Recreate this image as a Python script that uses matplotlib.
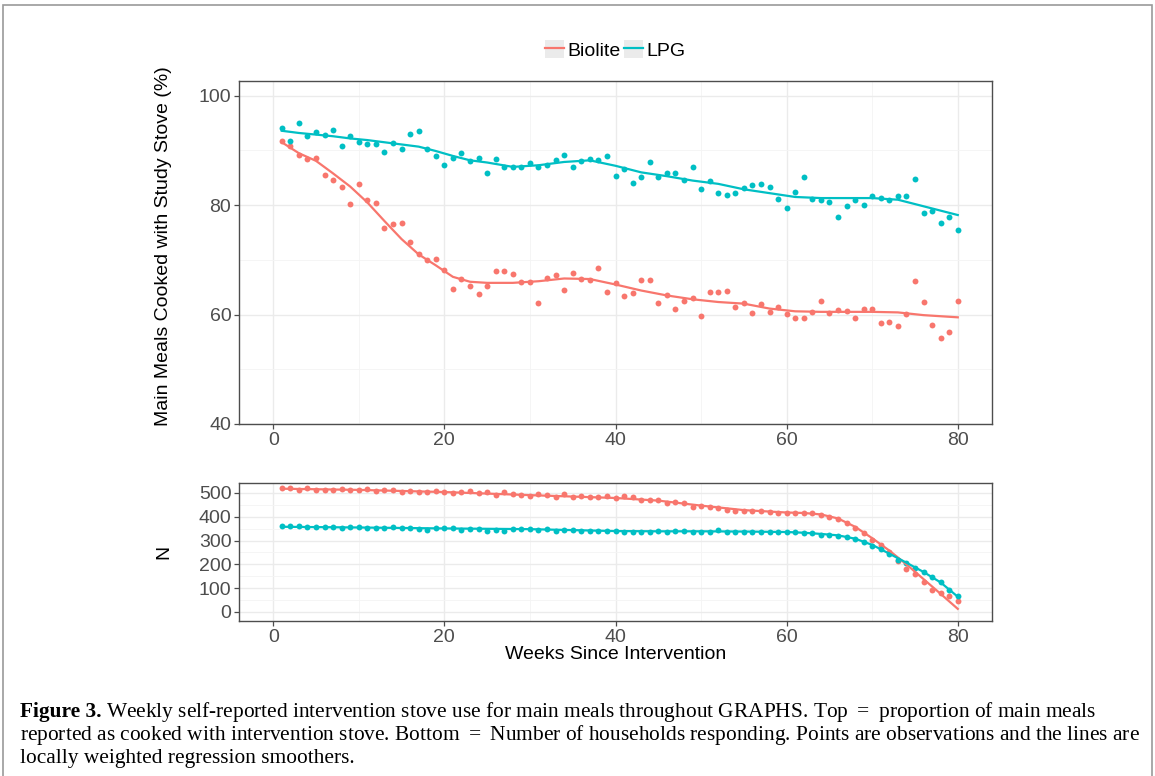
import matplotlib
matplotlib.use('Agg')
import matplotlib.pyplot as plt
from matplotlib.patches import Rectangle, Patch
from matplotlib.lines import Line2D
from matplotlib.ticker import MultipleLocator

W, H = 1155, 776

weeks = list(range(1, 81))

# top panel: % of main meals cooked with study stove
biolite_pct = [91.8, 90.9, 89.1, 88.5, 88.7, 85.5, 84.6, 83.4, 80.2, 83.9,
               81.0, 80.4, 75.9, 76.5, 76.7, 73.2, 71.0, 69.9, 70.1, 68.2,
               64.6, 66.5, 65.3, 63.8, 65.3, 67.9, 67.9, 67.5, 65.9, 65.9,
               62.2, 66.7, 67.3, 64.5, 67.6, 66.5, 66.4, 68.5, 64.2, 65.8,
               63.4, 63.9, 66.4, 66.4, 62.1, 63.5, 61.1, 62.5, 63.0, 59.8,
               64.1, 64.1, 64.4, 61.3, 62.2, 60.2, 61.9, 60.5, 61.4, 60.1,
               59.3, 59.4, 60.5, 62.4, 60.3, 60.9, 60.6, 59.3, 61.1, 61.1,
               58.4, 58.6, 57.9, 60.1, 66.1, 62.3, 58.1, 55.8, 56.8, 62.4]
lpg_pct = [94.1, 91.8, 95.1, 92.6, 93.4, 92.9, 93.8, 90.8, 92.6, 91.5,
           91.1, 91.1, 89.8, 91.4, 90.2, 93.1, 93.6, 90.2, 89.0, 87.3,
           88.7, 89.6, 88.1, 88.6, 85.8, 88.5, 86.9, 86.9, 87.0, 87.8,
           87.0, 87.4, 88.2, 89.1, 87.0, 88.1, 88.5, 88.2, 88.9, 85.3,
           86.7, 84.1, 85.1, 87.9, 85.1, 85.9, 85.9, 84.6, 87.0, 82.9,
           84.4, 82.2, 81.8, 82.2, 83.1, 83.6, 83.9, 83.3, 81.1, 79.4,
           82.4, 85.2, 81.2, 80.9, 80.6, 77.9, 79.9, 80.9, 80.1, 81.7,
           81.3, 80.9, 81.7, 81.7, 84.8, 78.5, 78.9, 76.7, 77.9, 75.4]

# loess smoother
pct_smooth_weeks = [1, 3, 5, 7, 9, 11, 13, 15, 17, 19, 21, 23, 25, 28, 31, 34,
                    37, 40, 43, 46, 49, 52, 55, 58, 61, 64, 67, 70, 73, 76, 80]
biolite_pct_smooth = [91.5, 89.5, 88.1, 85.8, 83.4, 80.5, 77.1, 73.8, 71.0, 69.0,
                      66.9, 66.0, 65.8, 65.8, 66.1, 66.6, 66.5, 65.5, 64.4, 63.5,
                      62.8, 62.3, 62.0, 61.1, 60.6, 60.5, 60.5, 60.5, 60.4, 59.9, 59.5]
lpg_pct_smooth = [93.6, 93.2, 92.9, 92.6, 92.2, 91.9, 91.5, 91.1, 90.7, 89.9,
                  89.0, 88.2, 87.8, 87.0, 87.3, 87.9, 88.2, 87.2, 86.0, 85.3,
                  84.5, 83.9, 82.9, 82.2, 81.5, 81.3, 81.3, 81.3, 81.0, 79.8, 78.2]

# bottom panel: number of households responding
biolite_n = [522, 520, 513, 522, 514, 514, 514, 517, 514, 514,
             517, 507, 511, 511, 506, 510, 504, 504, 507, 506,
             499, 504, 508, 499, 503, 492, 504, 497, 492, 489,
             494, 492, 483, 494, 482, 487, 485, 483, 487, 480,
             486, 483, 472, 472, 472, 459, 464, 459, 440, 445,
             440, 435, 428, 426, 426, 426, 426, 421, 414, 417,
             417, 417, 414, 407, 398, 389, 372, 351, 330, 303,
             282, 251, 215, 181, 160, 125, 92, 78, 65, 46]
lpg_n = [361, 361, 361, 356, 356, 356, 356, 353, 356, 356,
         353, 353, 353, 356, 353, 353, 349, 346, 353, 353,
         353, 346, 349, 349, 342, 346, 342, 349, 349, 349,
         346, 349, 342, 346, 346, 342, 339, 339, 339, 339,
         338, 338, 338, 338, 342, 338, 342, 342, 338, 338,
         338, 346, 338, 338, 338, 334, 338, 338, 338, 338,
         335, 331, 331, 324, 324, 321, 317, 307, 296, 277,
         263, 242, 218, 204, 186, 169, 148, 125, 92, 69]

n_smooth_weeks = [1, 10, 20, 30, 40, 45, 50, 55, 60, 62, 64, 66, 68, 70, 72, 74, 76, 78, 80]
biolite_n_smooth = [518, 513, 504, 491, 479, 468, 447, 428, 418, 416, 410, 393, 358,
                    310, 258, 200, 138, 76, 13]
lpg_n_smooth = [358, 355, 351, 348, 340, 339, 339, 338, 336, 333, 328, 322, 308,
                282, 245, 207, 168, 124, 64]

c_bio = '#F8766D'
c_lpg = '#00BFC4'

plt.rcParams['font.family'] = ['Liberation Sans', 'DejaVu Sans']

fig = plt.figure(figsize=(W/100, H/100), dpi=100)
ax1 = fig.add_axes([239/W, 1-424/H, 753/W, 343/H])
ax2 = fig.add_axes([239/W, 1-621/H, 753/W, 138/H])


def style(ax):
    ax.set_facecolor('white')
    ax.set_axisbelow(True)
    ax.grid(True, which='major', color='#EBEBEB', lw=1.0)
    ax.grid(True, which='minor', color='#F4F4F4', lw=0.6)
    for sp in ax.spines.values():
        sp.set_color('#4d4d4d')
        sp.set_linewidth(1.0)
    ax.tick_params(which='major', length=3.5, width=0.9, color='#4d4d4d',
                   labelsize=14, labelcolor='#4d4d4d', pad=2)
    ax.tick_params(which='minor', length=0)
    ax.set_xlim(-4, 84)
    ax.xaxis.set_major_locator(MultipleLocator(20))
    ax.xaxis.set_minor_locator(MultipleLocator(10))


# top panel
style(ax1)
ax1.scatter(weeks, biolite_pct, s=18, color=c_bio, zorder=3, lw=0)
ax1.scatter(weeks, lpg_pct, s=18, color=c_lpg, zorder=3, lw=0)
ax1.plot(pct_smooth_weeks, biolite_pct_smooth, color=c_bio, lw=1.6, zorder=4)
ax1.plot(pct_smooth_weeks, lpg_pct_smooth, color=c_lpg, lw=1.6, zorder=4)
ax1.set_ylim(40, 102.7)
ax1.yaxis.set_major_locator(MultipleLocator(20))
ax1.yaxis.set_minor_locator(MultipleLocator(10))
ax1.set_ylabel('Main Meals Cooked with Study Stove (%)', fontsize=14)
ax1.yaxis.set_label_coords(-0.089, 0.52)

# bottom panel
style(ax2)
ax2.scatter(weeks, biolite_n, s=18, color=c_bio, zorder=3, lw=0)
ax2.scatter(weeks, lpg_n, s=18, color=c_lpg, zorder=3, lw=0)
ax2.plot(n_smooth_weeks, biolite_n_smooth, color=c_bio, lw=1.6, zorder=4)
ax2.plot(n_smooth_weeks, lpg_n_smooth, color=c_lpg, lw=1.6, zorder=4)
ax2.set_ylim(-38, 542)
ax2.yaxis.set_major_locator(MultipleLocator(100))
ax2.yaxis.set_minor_locator(MultipleLocator(50))
ax2.set_ylabel('N', fontsize=14)
ax2.yaxis.set_label_coords(-0.089, 0.5)
ax2.set_xlabel('Weeks Since Intervention', fontsize=14, labelpad=0)

# legend with grey key background like ggplot
key_bg = Patch(facecolor='#EBEBEB', edgecolor='none')
handles = [(key_bg, Line2D([], [], color=c_bio, lw=1.6)),
           (key_bg, Line2D([], [], color=c_lpg, lw=1.6))]
fig.legend(handles, ['Biolite', 'LPG'], loc='center', bbox_to_anchor=(615/W, 1-50/H),
           ncol=2, frameon=False, fontsize=14, handlelength=1.0, handleheight=1.0,
           handletextpad=0.15, columnspacing=0.15, borderpad=0)

# page frame
fig.patches.append(Rectangle((3/W, -0.02), 1149/W, 1-5/H+0.02, transform=fig.transFigure,
                             fill=False, edgecolor='#9a9a9a', lw=1.2))

# caption
renderer = fig.canvas.get_renderer()
cap_rest = ['Weekly self-reported intervention stove use for main meals throughout GRAPHS. Top $=$ proportion of main meals',
            'reported as cooked with intervention stove. Bottom $=$ Number of households responding. Points are observations and the lines are',
            'locally weighted regression smoothers.']
cap_y = [712, 735, 758]
serif = ['Liberation Serif', 'DejaVu Serif']
plt.rcParams['mathtext.fontset'] = 'custom'
plt.rcParams['mathtext.rm'] = 'Liberation Serif'
probe = fig.text(0, 0, cap_rest[1], family=serif, fontsize=10)
fs = 10 * 1120 / probe.get_window_extent(renderer).width
probe.remove()
t0 = fig.text(20/W, 1-cap_y[0]/H, 'Figure 3.', family=serif, fontsize=fs,
              fontweight='bold', va='center')
x1 = t0.get_window_extent(renderer).x1 + 4
fig.text(x1/W, 1-cap_y[0]/H, cap_rest[0], family=serif, fontsize=fs, va='center')
fig.text(20/W, 1-cap_y[1]/H, cap_rest[1], family=serif, fontsize=fs, va='center')
fig.text(20/W, 1-cap_y[2]/H, cap_rest[2], family=serif, fontsize=fs, va='center')

fig.savefig('out.png', dpi=100)
